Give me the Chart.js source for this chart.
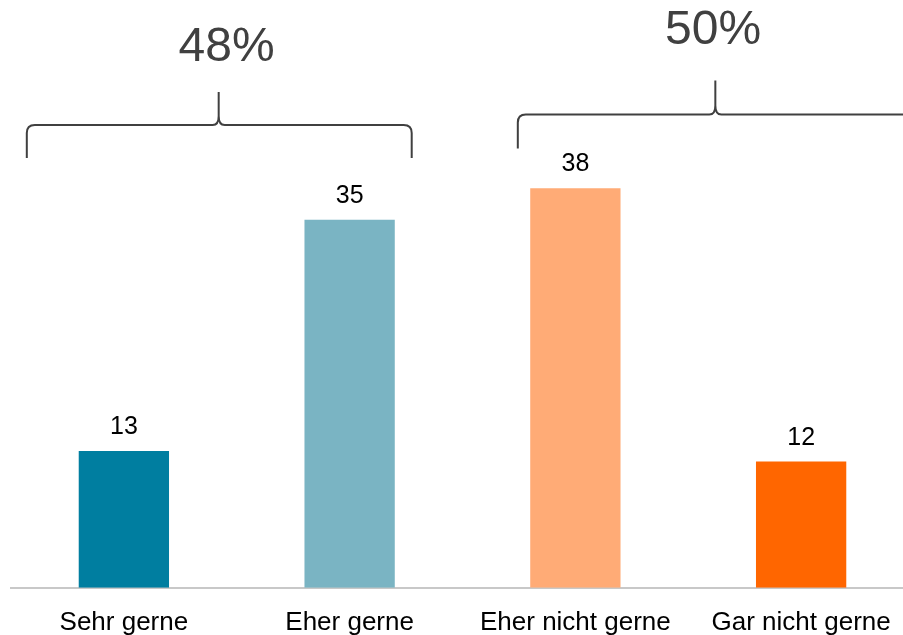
<!DOCTYPE html>
<html>
<head>
<meta charset="utf-8">
<script src="https://cdn.jsdelivr.net/npm/chart.js@4/dist/chart.umd.min.js"></script>
<style>
    html, body { margin: 0; padding: 0; background: #fff; overflow: hidden; }
    #wrap { position: relative; width: 914px; height: 657px; }
</style>
</head>
<body>
<div id="wrap"><canvas id="chart"></canvas></div>
<script>
// data
const categories = ['Sehr gerne', 'Eher gerne', 'Eher nicht gerne', 'Gar nicht gerne'];
const values = [13, 35, 38, 12];
const barColors = ['#007ea0', '#7ab4c3', '#ffab76', '#ff6600'];
const groupTotals = [48, 50]; // sums shown over the braces

const FONT = "'Liberation Sans', Arial, sans-serif";

// value labels above the bars
const valueLabels = {
    id: 'valueLabels',
    afterDatasetsDraw(chart) {
        const ctx = chart.ctx;
        const meta = chart.getDatasetMeta(0);
        ctx.save();
        ctx.fillStyle = '#000';
        ctx.font = '25px ' + FONT;
        ctx.textAlign = 'center';
        ctx.textBaseline = 'alphabetic';
        meta.data.forEach((bar, i) => {
            ctx.fillText(values[i], bar.x, bar.y - 17);
        });
        ctx.restore();
    }
};

// curly braces with group totals
const braces = {
    id: 'braces',
    afterDraw(chart, args, opts) {
        const ctx = chart.ctx;
        const x = chart.scales.x;
        const y = chart.scales.y;
        ctx.save();
        ctx.strokeStyle = '#404040';
        ctx.lineWidth = 2;
        opts.groups.forEach((g, i) => {
            const x1 = x.getPixelForValue(g.from);
            const x2 = x.getPixelForValue(g.to);
            const xt = x.getPixelForValue(g.tip);
            const yh = y.getPixelForValue(g.level);
            const ye = yh + g.drop;
            const yt = yh - g.rise;
            const r = 8;
            ctx.beginPath();
            ctx.moveTo(x1, ye);
            ctx.lineTo(x1, yh + r);
            ctx.quadraticCurveTo(x1, yh, x1 + r, yh);
            ctx.lineTo(xt - 6, yh);
            ctx.quadraticCurveTo(xt, yh, xt, yh - 9);
            ctx.lineTo(xt, yt);
            ctx.moveTo(xt, yh - 9);
            ctx.quadraticCurveTo(xt, yh, xt + 6, yh);
            ctx.lineTo(x2 - r, yh);
            ctx.quadraticCurveTo(x2, yh, x2, yh + r);
            ctx.lineTo(x2, ye);
            ctx.stroke();

            ctx.fillStyle = '#404040';
            ctx.font = '48px ' + FONT;
            ctx.textAlign = 'center';
            ctx.textBaseline = 'alphabetic';
            ctx.fillText(groupTotals[i] + '%', x.getPixelForValue(g.textAt), yt - g.textGap);
        });
        ctx.restore();
    }
};

new Chart(document.getElementById('chart'), {
    type: 'bar',
    data: {
        labels: categories,
        datasets: [{
            data: values,
            backgroundColor: barColors,
            borderWidth: 0,
            barPercentage: 0.4,
            categoryPercentage: 1
        }]
    },
    options: {
        responsive: true,
        maintainAspectRatio: false,
        animation: false,
        layout: {
            padding: { left: 11, right: 0, top: 62, bottom: 0 }
        },
        scales: {
            x: {
                grid: { display: false, drawTicks: false },
                border: { display: true, color: '#c8c8c8', width: 2 },
                ticks: {
                    color: '#000',
                    font: { family: FONT, size: 26 },
                    padding: 19,
                    maxRotation: 0,
                    autoSkip: false
                }
            },
            y: {
                display: false,
                min: 0,
                max: 50
            }
        },
        plugins: {
            legend: { display: false },
            tooltip: { enabled: false },
            braces: {
                groups: [
                    { from: -0.43, to: 1.275, tip: 0.42, textAt: 0.455, level: 44, drop: 33, rise: 33, textGap: 31 },
                    { from: 1.745, to: 3.5, tip: 2.62, textAt: 2.61, level: 45, drop: 34, rise: 34, textGap: 37 }
                ]
            }
        }
    },
    plugins: [valueLabels, braces]
});
</script>
</body>
</html>
